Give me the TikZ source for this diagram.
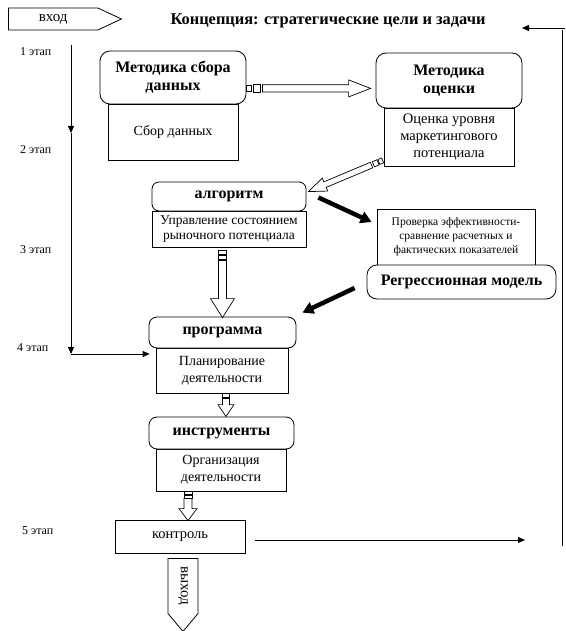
\documentclass[tikz,border=0pt]{standalone}
\usepackage{fontspec}
\setmainfont{Liberation Serif}
\usetikzlibrary{calc,arrows.meta,shapes.symbols}

\newcommand\hollowarrow[5]{%
  \coordinate (ha) at (#1); \coordinate (hb) at (#2);
  \coordinate (hh) at ($(hb)!#4!(ha)$);
  \draw[hollow] ($(ha)!#3!90:(hb)$) -- ($(hh)!#3!90:(hb)$) -- ($(hh)!#5!90:(hb)$) -- (hb)
     -- ($(hh)!#5!-90:(hb)$) -- ($(hh)!#3!-90:(hb)$) -- ($(ha)!#3!-90:(hb)$) -- cycle;}
\newcommand\hollowsq[5]{%
  \coordinate (qa) at ($(#1)!#3!(#2)$); \coordinate (qb) at ($(#1)!#4!(#2)$);
  \draw[hollow] ($(qa)!#5!90:(#2)$) -- ($(qb)!#5!90:(#2)$) -- ($(qb)!#5!-90:(#2)$) -- ($(qa)!#5!-90:(#2)$) -- cycle;}

\begin{document}
\begin{tikzpicture}[x=1pt,y=1pt,
  hdr/.style={draw, line width=0.8pt, rounded corners=10pt, align=center,
    font=\fontsize{16}{18}\selectfont\bfseries, inner sep=2pt},
  sub/.style={draw, line width=0.8pt, align=center,
    font=\fontsize{14}{17}\selectfont, inner sep=2pt},
  stage/.style={font=\fontsize{12}{14}\selectfont, anchor=west, inner sep=0pt},
  thin/.style={line width=0.8pt, -{Triangle[length=7pt,width=6pt]}},
  heavy/.style={line width=4.5pt, -{Triangle[length=11pt,width=12pt]}},
  hollow/.style={draw, line width=0.7pt, fill=white}]
\useasboundingbox (0,0) rectangle (565,-631);

% input / title
\node[draw, line width=0.8pt, signal, signal to=east, signal pointer angle=50,
      minimum width=113pt, minimum height=22pt, inner sep=1pt, anchor=west,
      font=\fontsize{15}{16}\selectfont] (vhod) at (8,-19) {вход};
\node[font=\fontsize{16.4}{18}\selectfont\bfseries] (title) at (328,-21)
      {Концепция: стратегические цели и задачи};

% stage labels
\node[stage] (st1) at (20,-52) {1 этап};
\node[stage] (st2) at (20,-150) {2 этап};
\node[stage] (st3) at (20,-250) {3 этап};
\node[stage] (st4) at (17,-348) {4 этап};
\node[stage] (st5) at (22,-531) {5 этап};

% stage 1
\node[sub, minimum width=130pt, minimum height=56pt] (sbor) at (173,-132) {Сбор данных};
\node[hdr, fill=white, minimum width=146pt, minimum height=53pt] (msb) at (173,-77.5)
      {Методика сбора\\данных};
\node[sub, minimum width=130pt, minimum height=58pt,
      font=\fontsize{14.5}{17}\selectfont] (ocen) at (449,-137)
      {Оценка уровня\\маркетингового\\потенциала};
\node[hdr, fill=white, minimum width=146pt, minimum height=55pt] (mo) at (449,-80.5)
      {Методика\\оценки};

% stage 2/3
\node[sub, minimum width=154pt, minimum height=36pt,
      font=\fontsize{13.5}{15.5}\selectfont] (algsub) at (229,-229)
      {Управление состоянием\\рыночного потенциала};
\node[hdr, fill=white, minimum width=154pt, minimum height=29pt, rounded corners=7pt] (alg)
      at (229,-196.5) {алгоритм};
\node[sub, minimum width=158pt, minimum height=56pt,
      font=\fontsize{11.5}{14}\selectfont] (prov) at (456,-237)
      {Проверка эффективности-\\сравнение расчетных и\\фактических показателей};
\node[hdr, fill=white, minimum width=189pt, minimum height=34pt] (regr)
      at (461.5,-282) {Регрессионная модель};

% stage 4
\node[sub, minimum width=132pt, minimum height=45pt] (progsub) at (222,-370.5)
      {Планирование\\деятельности};
\node[hdr, fill=white, minimum width=147pt, minimum height=31pt, rounded corners=8pt] (prog)
      at (222.5,-332.5) {программа};
\node[sub, minimum width=130pt, minimum height=42pt] (instrsub) at (221,-470)
      {Организация\\деятельности};
\node[hdr, fill=white, minimum width=145pt, minimum height=32pt, rounded corners=8pt] (instr)
      at (221.5,-433) {инструменты};

% stage 5
\node[sub, minimum width=130pt, minimum height=33pt,
      font=\fontsize{14.5}{17}\selectfont] (kontr) at (180,-536.5) {контроль};
\node[draw, line width=0.8pt, signal, signal to=east, signal pointer angle=80,
      minimum width=73pt, minimum height=30pt, inner sep=1pt, rotate=-90, anchor=west,
      font=\fontsize{15}{16}\selectfont] (vyhod) at (183,-558) {выход};

% left stage line
\coordinate (l0) at (71,-45);
\coordinate (l1) at (71,-133);
\coordinate (l2) at (71,-354);
\draw[thin] (l0) -- (l1);
\draw[thin] (l1) -- (l2);
\draw[thin] (l2) -- ($(progsub.west |- l2)+(-6,0)$);

% right feedback line
\coordinate (rb) at (562,-546);
\coordinate (rt) at (562,-30);
\coordinate (rtop) at (565,-28);
\coordinate (tarr) at (522,-28);
\draw[line width=0.8pt] (rb) -- (rt);
\draw[thin] (rtop) -- (tarr);
\coordinate (brend) at (525,-540);
\draw[thin] ($(kontr.east)+(10,-3.5)$) -- (brend);

% hollow arrow msb -> mo
\coordinate (a1s) at ($(msb.south east)+(0,16)$);
\coordinate (a1e) at ($(mo.south west)+(-5,20)$);
\coordinate (a1b) at ($(a1s)!16pt!(a1e)$);
\hollowsq{a1s}{a1e}{0pt}{5pt}{3pt}
\hollowsq{a1s}{a1e}{7pt}{14pt}{3.6pt}
\hollowarrow{a1b}{a1e}{3.6pt}{22pt}{8.5pt}

% hollow arrow ocen -> alg
\coordinate (a2s) at ($(ocen.south west)+(-1,6)$);
\coordinate (a2e) at ($(alg.north east)+(2,-10)$);
\coordinate (a2b) at ($(a2s)!12pt!(a2e)$);
\hollowsq{a2s}{a2e}{0pt}{4pt}{2.6pt}
\hollowsq{a2s}{a2e}{5pt}{10pt}{2.8pt}
\hollowarrow{a2b}{a2e}{3pt}{18pt}{7pt}

% hollow arrow alg -> prog
\coordinate (a3s) at ($(algsub.south)+(-6.5,-3)$);
\coordinate (a3e) at ($(prog.north)+(0,-1)$);
\coordinate (a3b) at ($(a3s)!10pt!(a3e)$);
\hollowsq{a3s}{a3e}{0pt}{3.5pt}{4pt}
\hollowsq{a3s}{a3e}{4.5pt}{8.5pt}{4pt}
\hollowarrow{a3b}{a3e}{4pt}{19pt}{12pt}

% hollow arrow progsub -> instr
\coordinate (a4s) at ($(progsub.south)+(4,0)$);
\coordinate (a4e) at ($(instr.north)+(4.5,0)$);
\coordinate (a4b) at ($(a4s)!5pt!(a4e)$);
\hollowsq{a4s}{a4e}{0pt}{4pt}{3.5pt}
\hollowarrow{a4b}{a4e}{3.5pt}{12pt}{8pt}

% hollow arrow instrsub -> kontr
\coordinate (a5s) at ($(instrsub.south)+(-33,0)$);
\coordinate (a5e) at ($(kontr.north)+(8,-1)$);
\coordinate (a5b) at ($(a5s)!7pt!(a5e)$);
\hollowsq{a5s}{a5e}{0pt}{3pt}{4pt}
\hollowsq{a5s}{a5e}{3.5pt}{6.5pt}{4pt}
\hollowarrow{a5b}{a5e}{4pt}{12pt}{9pt}

% heavy black arrows
\draw[heavy] ($(alg.east)+(12,-1)$) -- ($(prov.west)+(-5,15)$);
\draw[heavy] ($(regr.west)+(-12,-6)$) -- ($(prog.north east)+(6,4)$);
\end{tikzpicture}
\end{document}
